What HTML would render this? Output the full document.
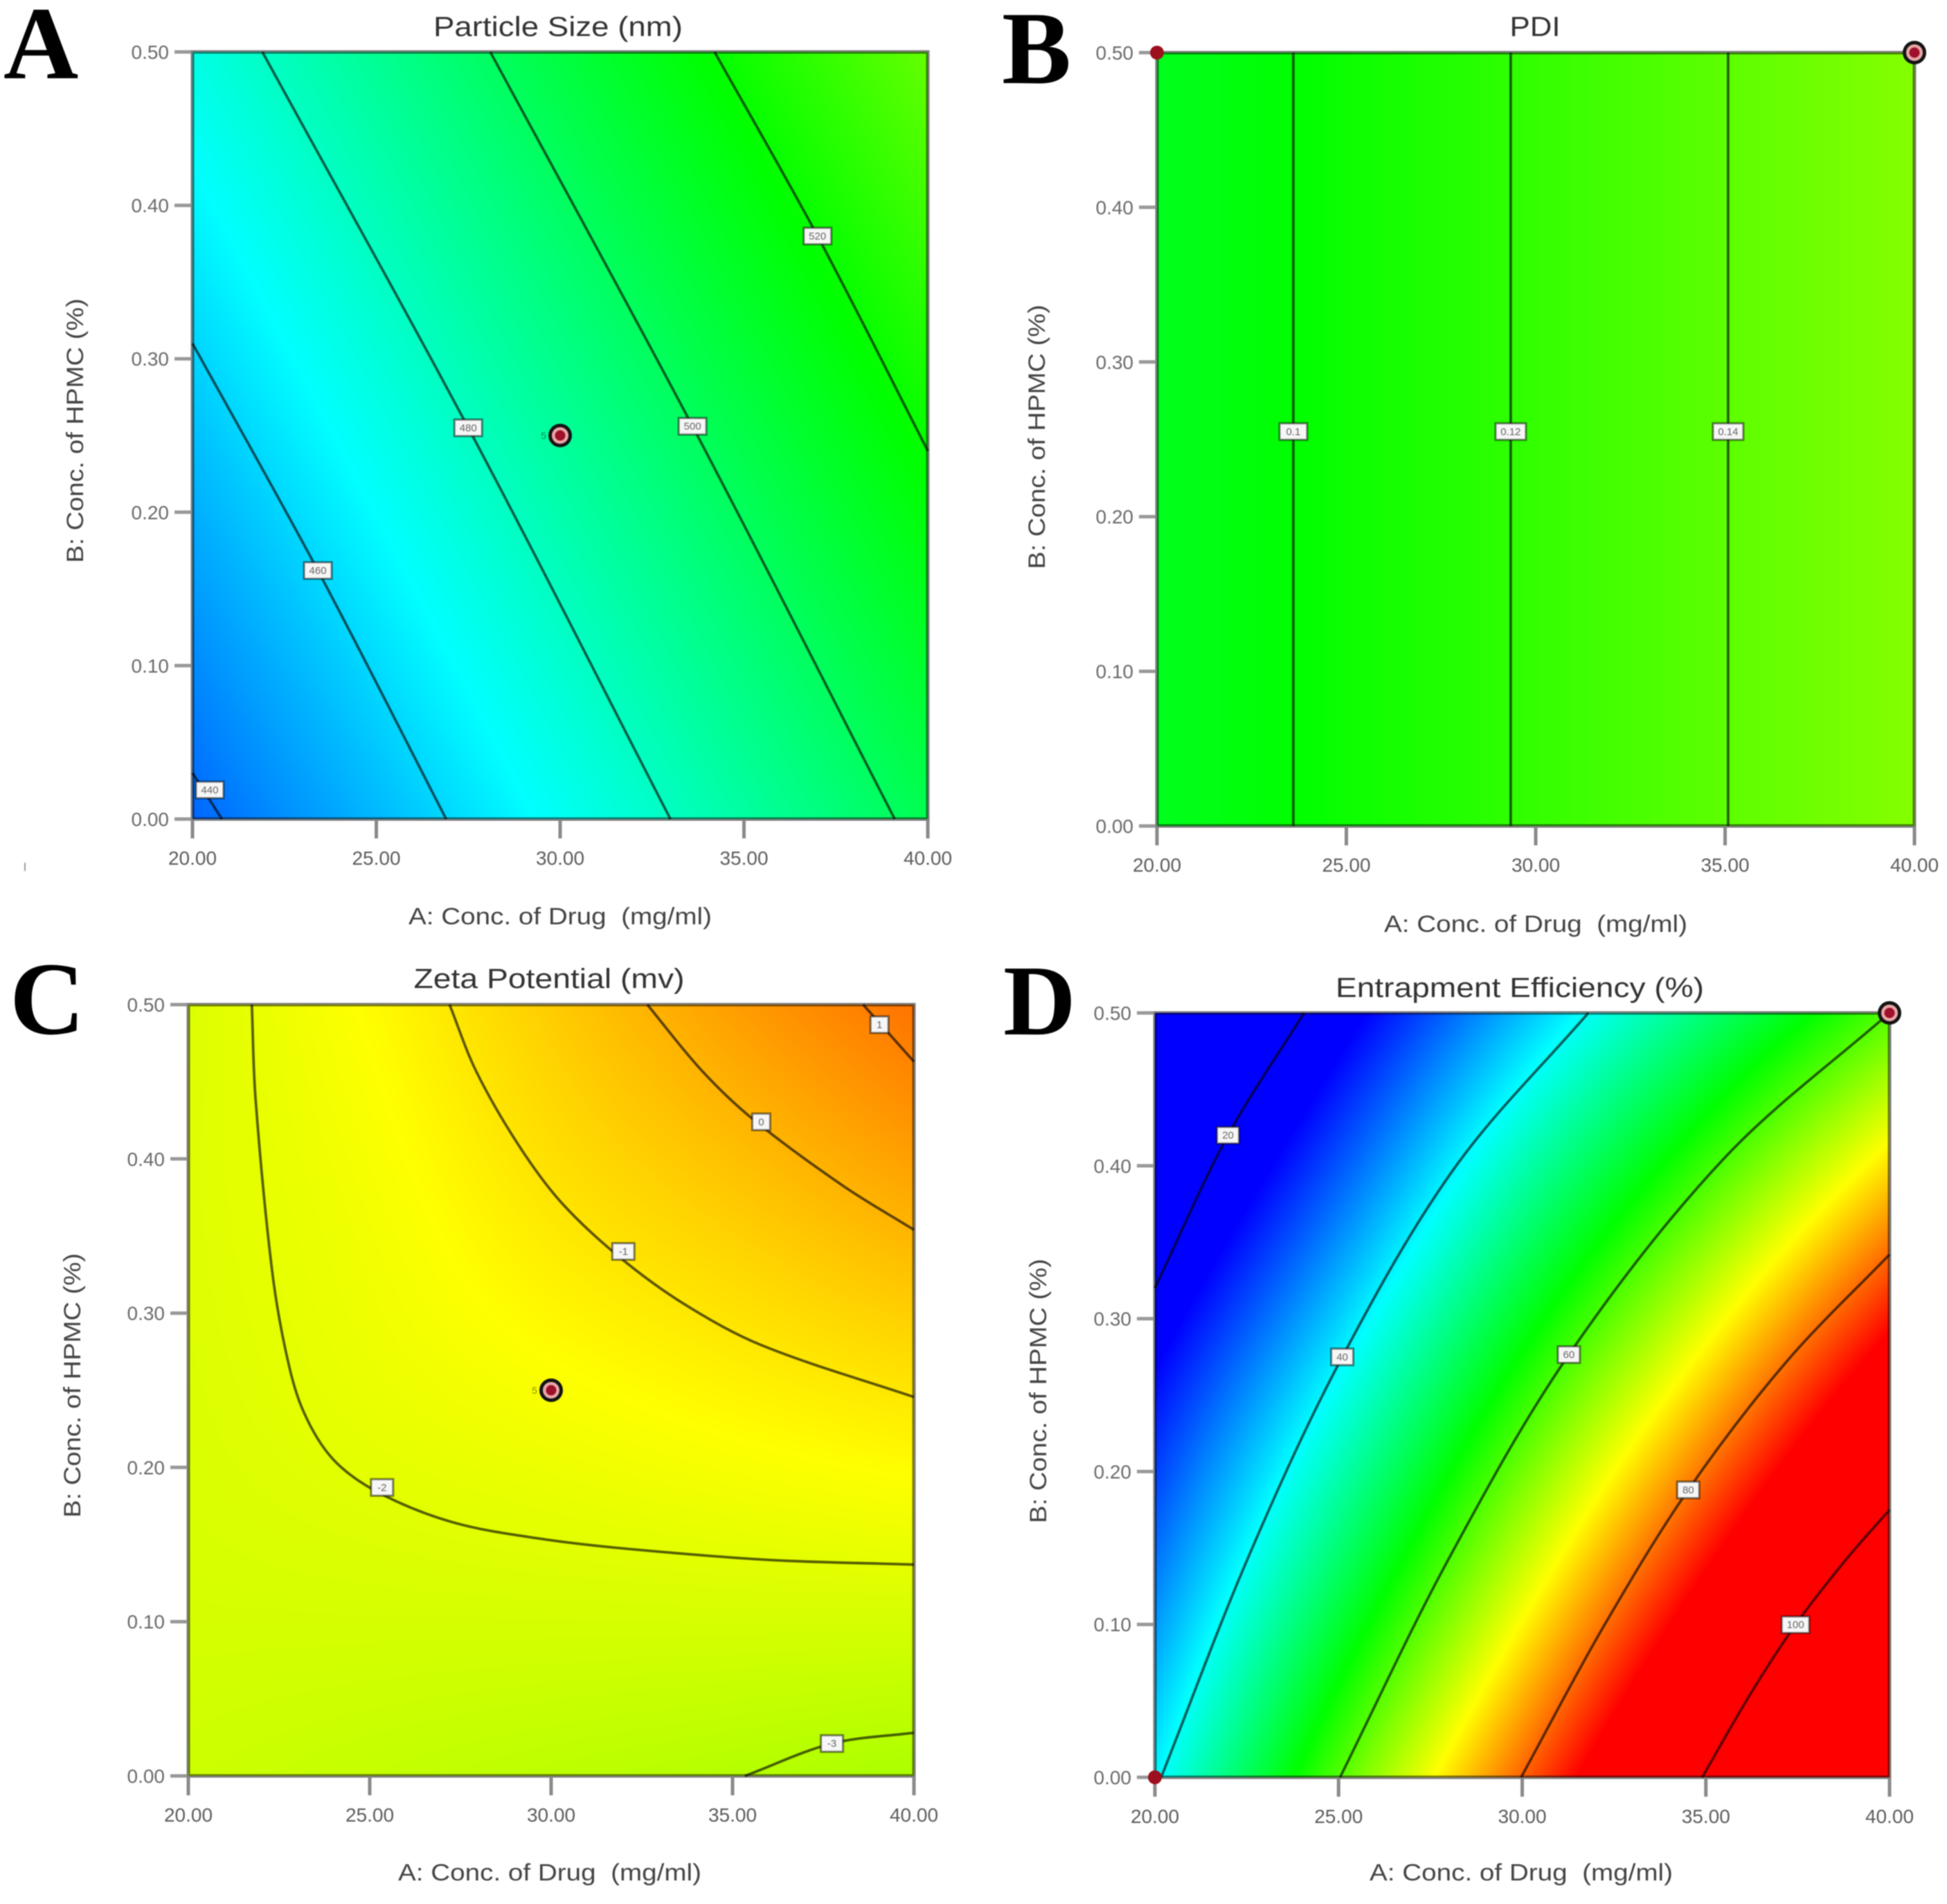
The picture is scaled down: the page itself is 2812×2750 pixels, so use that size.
<!DOCTYPE html>
<html lang="en">
<head>
<meta charset="utf-8">
<title>Contour plots of formulation responses</title>
<style>
html,body{margin:0;padding:0;background:#fff;}
#figure{position:relative;width:2812px;height:2750px;overflow:hidden;background:#fff;filter:blur(0.9px);}
#figure canvas{position:absolute;}
#figure svg{position:absolute;left:0;top:0;}
text{font-family:"Liberation Sans",sans-serif;white-space:pre;}
</style>
</head>
<body>
<div id="figure">
<svg id="overlay" width="2812" height="2750" viewBox="0 0 2812 2750"></svg>
</div>
<script>
// ---- shared axis data ----
const xTickValues = [20, 25, 30, 35, 40];
const yTickValues = [0, 0.1, 0.2, 0.3, 0.4, 0.5];
const gridX = [20, 25, 30, 35, 40];
const gridY = [0, 0.125, 0.25, 0.375, 0.5];

// ---- panel A: particle size ----
const sizeGrid = [
  [437.4, 453.8, 470.2, 486.6, 503.0],
  [446.4, 462.8, 479.2, 495.6, 512.0],
  [455.4, 471.8, 488.2, 504.6, 521.0],
  [464.4, 480.8, 497.2, 513.6, 530.0],
  [473.4, 489.8, 506.2, 522.6, 539.0]
];
const sizeScale = [417, 621];
const sizeLevels = ['440', '460', '480', '500', '520'];
const size440 = [[20, 0.03], [20.8, 0]];
const size460 = [[20, 0.31], [23.41, 0.162], [26.9, 0]];
const size480 = [[21.9, 0.5], [27.5, 0.255], [33, 0]];
const size500 = [[28.1, 0.5], [33.6, 0.256], [39.1, 0]];
const size520 = [[34.2, 0.5], [37, 0.38], [40, 0.24]];
const sizeLabelPoints = [[20.47, 0.019], [23.41, 0.162], [27.5, 0.255], [33.6, 0.256], [37, 0.38]];

// ---- panel B: PDI ----
const pdiGrid = [
  [0.0875, 0.1049, 0.1223, 0.1398, 0.1572],
  [0.0875, 0.1049, 0.1223, 0.1398, 0.1572],
  [0.0875, 0.1049, 0.1223, 0.1398, 0.1572],
  [0.0875, 0.1049, 0.1223, 0.1398, 0.1572],
  [0.0875, 0.1049, 0.1223, 0.1398, 0.1572]
];
const pdiScale = [-0.12, 0.32];
const pdiLevels = ['0.1', '0.12', '0.14'];
const pdi01 = [[23.6, 0], [23.6, 0.5]];
const pdi012 = [[29.34, 0], [29.34, 0.5]];
const pdi014 = [[35.08, 0], [35.08, 0.5]];
const pdiLabelPoints = [[23.6, 0.255], [29.34, 0.255], [35.08, 0.255]];

// ---- panel C: zeta potential ----
const zetaGrid = [
  [-2.5, -2.65, -2.8, -2.95, -3.15],
  [-2.3, -2.25, -2.2, -2.15, -2.1],
  [-2.2, -1.9, -1.6, -1.3, -1.0],
  [-2.15, -1.7, -1.0, -0.45, 0.15],
  [-2.2, -1.45, -0.5, 0.4, 1.25]
];
const zetaScale = [-16.5, 3.5];
const zetaLevels = ['-3', '-2', '-1', '0', '1'];
const zetaM3 = [[35.34, 0], [37.74, 0.021], [40, 0.028]];
const zetaM2 = [[21.75, 0.5], [21.85, 0.44], [22.29, 0.331], [22.68, 0.276], [23.16, 0.237], [24, 0.205], [25.3, 0.183], [27.35, 0.164], [29.78, 0.1535], [32.2, 0.147], [36.03, 0.14], [40, 0.137]];
const zetaM1 = [[27.2, 0.5], [27.93, 0.457], [29.1, 0.409], [30.27, 0.372], [31.87, 0.3366], [33.68, 0.3057], [35.82, 0.279], [40, 0.2456]];
const zeta0 = [[32.65, 0.5], [34.16, 0.457], [35.6, 0.425], [38.08, 0.382], [40, 0.354]];
const zeta1 = [[38.6, 0.5], [40, 0.463]];
const zetaLabelPoints = [[37.74, 0.021], [25.34, 0.187], [31.99, 0.34], [35.79, 0.424], [39.05, 0.487]];

// ---- panel D: entrapment efficiency ----
const eeGrid = [
  [39, 60, 80, 100, 120],
  [32, 50, 68.5, 87, 105.5],
  [25, 40.5, 57.5, 74, 91],
  [17, 31, 46.5, 61, 75.5],
  [9, 22, 35.5, 48, 60]
];
const eeScale = [24, 86];
const eeLevels = ['20', '40', '60', '80', '100'];
const ee20 = [[20, 0.32], [21.99, 0.42], [24.06, 0.5]];
const ee40 = [[20.17, 0], [22.57, 0.1455], [25.1, 0.275], [28.17, 0.399], [31.8, 0.5]];
const ee60 = [[25.04, 0], [28, 0.143], [31.27, 0.2765], [35.5, 0.405], [40, 0.5]];
const ee80 = [[29.97, 0], [32.2, 0.098], [34.52, 0.188], [37.2, 0.272], [40, 0.342]];
const ee100 = [[34.9, 0], [36.2, 0.054], [37.44, 0.0998], [38.8, 0.142], [40, 0.175]];
const eeLabelPoints = [[21.99, 0.42], [25.1, 0.275], [31.27, 0.2765], [34.52, 0.188], [37.44, 0.0998]];

// ---- design points ----
const sizeRingPoints = [[30, 0.25]];
const sizeDotPoints = [];
const pdiRingPoints = [[40, 0.5]];
const pdiDotPoints = [[20, 0.5]];
const zetaRingPoints = [[30, 0.25]];
const zetaDotPoints = [];
const eeRingPoints = [[40, 0.5]];
const eeDotPoints = [[20, 0]];

const panels = [
  {key:'particle-size', letter:'A', lx:5, ly:113, frame:[278,75,1340,1183], title:'Particle Size (nm)', tw:360, tx:806, ty:38,
   xtx:809, xty:1323, ytx:108, yty:622, grid:sizeGrid, scale:sizeScale, levels:sizeLevels,
   curves:[size440,size460,size480,size500,size520], labels:sizeLabelPoints, rings:sizeRingPoints, dots:sizeDotPoints},
  {key:'pdi', letter:'B', lx:1447, ly:120, frame:[1671,76,2765,1193], title:'PDI', tw:73, tx:2217, ty:38,
   xtx:2218, xty:1334, ytx:1497, yty:631, grid:pdiGrid, scale:pdiScale, levels:pdiLevels,
   curves:[pdi01,pdi012,pdi014], labels:pdiLabelPoints, rings:pdiRingPoints, dots:pdiDotPoints},
  {key:'zeta-potential', letter:'C', lx:14, ly:1493, frame:[272,1451,1320,2565], title:'Zeta Potential (mv)', tw:391, tx:793, ty:1413,
   xtx:794, xty:2704, ytx:104, yty:2001, grid:zetaGrid, scale:zetaScale, levels:zetaLevels,
   curves:[zetaM3,zetaM2,zetaM1,zeta0,zeta1], labels:zetaLabelPoints, rings:zetaRingPoints, dots:zetaDotPoints},
  {key:'entrapment-efficiency', letter:'D', lx:1449, ly:1494, frame:[1668,1463,2729,2567], title:'Entrapment Efficiency (%)', tw:532, tx:2195, ty:1426,
   xtx:2197, xty:2704, ytx:1499, yty:2009, grid:eeGrid, scale:eeScale, levels:eeLevels,
   curves:[ee20,ee40,ee60,ee80,ee100], labels:eeLabelPoints, rings:eeRingPoints, dots:eeDotPoints}
];

const NS = 'http://www.w3.org/2000/svg';
const overlay = document.getElementById('overlay');
const figure = document.getElementById('figure');

function svgEl(tag, parent, attrs, text) {
  const el = document.createElementNS(NS, tag);
  for (const k in attrs) el.setAttribute(k, attrs[k]);
  if (text !== undefined) el.textContent = text;
  parent.appendChild(el);
  return el;
}

function colormap(t) {
  t = Math.max(0, Math.min(1, t)) * 4;
  const seg = Math.min(3, Math.floor(t));
  const f = t - seg;
  if (seg === 0) return [0, 255 * f, 255];
  if (seg === 1) return [0, 255, 255 * (1 - f)];
  if (seg === 2) return [255 * f, 255, 0];
  return [255, 255 * (1 - f), 0];
}

function cubic(a, b, c, d, f) {
  return b + 0.5 * f * (c - a + f * (2 * a - 5 * b + 4 * c - d + f * (3 * (b - c) + d - a)));
}

function sampleGrid(grid, u, v) {
  const rows = grid.length, cols = grid[0].length;
  const cu = Math.min(cols - 2, Math.floor(u)), cv = Math.min(rows - 2, Math.floor(v));
  const fu = u - cu, fv = v - cv;
  const at = (r, c) => {
    const cc = Math.max(0, Math.min(cols - 1, c));
    const rr = Math.max(0, Math.min(rows - 1, r));
    let val = grid[rr][cc];
    if (c < 0) val += grid[rr][0] - grid[rr][1];
    if (c >= cols) val += grid[rr][cols - 1] - grid[rr][cols - 2];
    if (r < 0) val += grid[0][cc] - grid[1][cc];
    if (r >= rows) val += grid[rows - 1][cc] - grid[rows - 2][cc];
    return val;
  };
  const col = [];
  for (let r = -1; r <= 2; r++) {
    col.push(cubic(at(cv + r, cu - 1), at(cv + r, cu), at(cv + r, cu + 1), at(cv + r, cu + 2), fu));
  }
  return cubic(col[0], col[1], col[2], col[3], fv);
}

// Spline with tangent handles scaled to each segment's own length,
// so unevenly spaced points do not produce kinks.
function smoothPath(pts) {
  const n = pts.length;
  const dirs = pts.map(function (pt, i) {
    const a = pts[Math.max(0, i - 1)], b = pts[Math.min(n - 1, i + 1)];
    const dx = b[0] - a[0], dy = b[1] - a[1];
    const len = Math.hypot(dx, dy) || 1;
    return [dx / len, dy / len];
  });
  let d = 'M' + pts[0][0].toFixed(1) + ' ' + pts[0][1].toFixed(1);
  for (let i = 0; i < n - 1; i++) {
    const p1 = pts[i], p2 = pts[i + 1];
    const s = Math.hypot(p2[0] - p1[0], p2[1] - p1[1]) / 3;
    d += 'C' + (p1[0] + dirs[i][0] * s).toFixed(1) + ' ' + (p1[1] + dirs[i][1] * s).toFixed(1) + ' ' +
         (p2[0] - dirs[i + 1][0] * s).toFixed(1) + ' ' + (p2[1] - dirs[i + 1][1] * s).toFixed(1) + ' ' +
         p2[0].toFixed(1) + ' ' + p2[1].toFixed(1);
  }
  return d;
}

function labelWidth(s) {
  if (s.length <= 1) return 26;
  if (s.length === 2) return 32;
  if (s.length === 3) return 40;
  return 44;
}

panels.forEach(function (p) {
  const [x0, y0, x1, y1] = p.frame;
  const w = x1 - x0, h = y1 - y0;
  const xPx = v => x0 + (v - 20) / 20 * w;
  const yPx = v => y1 - v / 0.5 * h;

  // heat field
  const canvas = document.createElement('canvas');
  
  
  canvas.width = w; canvas.height = h;
  canvas.style.left = x0 + 'px';
  canvas.style.top = y0 + 'px';
  figure.insertBefore(canvas, overlay);
  const ctx = canvas.getContext('2d');
  const img = ctx.createImageData(w, h);
  const lo = p.scale[0], hi = p.scale[1];
  for (let j = 0; j < h; j++) {
    const v = (h - 1 - j) / (h - 1) * (gridY.length - 1);
    for (let i = 0; i < w; i++) {
      const u = i / (w - 1) * (gridX.length - 1);
      const c = colormap((sampleGrid(p.grid, u, v) - lo) / (hi - lo));
      const o = (j * w + i) * 4;
      img.data[o] = c[0]; img.data[o + 1] = c[1]; img.data[o + 2] = c[2]; img.data[o + 3] = 255;
    }
  }
  ctx.putImageData(img, 0, 0);

  const g = svgEl('g', overlay, {});
  
  

  // panel letter
  const letter = svgEl('text', g, {x:p.lx, y:p.ly, 'font-size':p.letter === 'D' ? 145 : 150, 'font-weight':'bold', fill:'#000', style:'font-family:"Liberation Serif",serif'}, p.letter);
  
  

  // contours
  p.curves.forEach(function (curve, idx) {
    const path = svgEl('path', g, {d:smoothPath(curve.map(q => [xPx(q[0]), yPx(q[1])])), fill:'none', stroke:'rgba(0,0,0,0.62)', 'stroke-width':3.8});
    
    
  });

  // frame
  const frame = svgEl('rect', g, {x:x0, y:y0, width:w, height:h, fill:'none', stroke:'rgba(0,0,0,0.5)', 'stroke-width':5});
  
  

  // contour labels
  p.labels.forEach(function (q, idx) {
    const cx = xPx(q[0]), cy = yPx(q[1]);
    const bw = labelWidth(p.levels[idx]);
    const box = svgEl('rect', g, {x:cx - bw / 2, y:cy - 12, width:bw, height:24, fill:'#f6f6f6', stroke:'rgba(0,0,0,0.5)', 'stroke-width':3});
    
    
    const t = svgEl('text', g, {x:cx, y:cy + 5, 'font-size':15, 'text-anchor':'middle', fill:'#666'}, p.levels[idx]);
    
    
  });

  // x ticks
  xTickValues.forEach(function (v) {
    const px = xPx(v);
    const tick = svgEl('line', g, {x1:px, x2:px, y1:y1 + 2, y2:y1 + 28, stroke:'#8a8a8a', 'stroke-width':5});
    
    
    const t = svgEl('text', g, {x:px, y:y1 + 66, 'font-size':28, 'text-anchor':'middle', fill:'#5c5c5c'}, v.toFixed(2));
    
    
  });

  // y ticks
  yTickValues.forEach(function (v) {
    const py = yPx(v);
    const tick = svgEl('line', g, {x1:x0 - 26, x2:x0 - 2, y1:py, y2:py, stroke:'#999', 'stroke-width':5});
    
    
    const t = svgEl('text', g, {x:x0 - 34, y:py + 10, 'font-size':28, 'text-anchor':'end', fill:'#6a6a6a'}, v.toFixed(2));
    
    
  });

  // titles
  const title = svgEl('text', g, {x:p.tx, y:p.ty + 14, 'font-size':40, 'text-anchor':'middle', fill:'#333', textLength:p.tw, lengthAdjust:'spacingAndGlyphs'}, p.title);
  
  
  const xTitle = svgEl('text', g, {x:p.xtx, y:p.xty + 12, 'font-size':34, 'text-anchor':'middle', fill:'#444', textLength:438, lengthAdjust:'spacingAndGlyphs'}, 'A: Conc. of Drug  (mg/ml)');
  
  
  const yTitle = svgEl('text', g, {x:0, y:0, 'font-size':34, 'text-anchor':'middle', fill:'#444', textLength:382, lengthAdjust:'spacingAndGlyphs', transform:'translate(' + (p.ytx + 12) + ' ' + p.yty + ') rotate(-90)'}, 'B: Conc. of HPMC (%)');
  
  

  // design points
  p.dots.forEach(function (q) {
    const dot = svgEl('circle', g, {cx:xPx(q[0]), cy:yPx(q[1]), r:10, fill:'#9c0f1e'});
    
    
  });
  p.rings.forEach(function (q) {
    const cx = xPx(q[0]), cy = yPx(q[1]);
    const ring = svgEl('circle', g, {cx:cx, cy:cy, r:14.5, fill:'#e8a6a6', stroke:'#141414', 'stroke-width':5});
    
    
    const core = svgEl('circle', g, {cx:cx, cy:cy, r:7.5, fill:'#a0102a'});
    
    
    if (q[0] === 30) {
      const rep = svgEl('text', g, {x:cx - 24, y:cy + 5, 'font-size':14, 'text-anchor':'middle', fill:'rgba(0,0,0,0.45)'}, '5');
      
      
    }
  });
});

const strayMark = svgEl('line', overlay, {x1:36, x2:36, y1:1246, y2:1258, stroke:'#999', 'stroke-width':2});


</script>
</body>
</html>
